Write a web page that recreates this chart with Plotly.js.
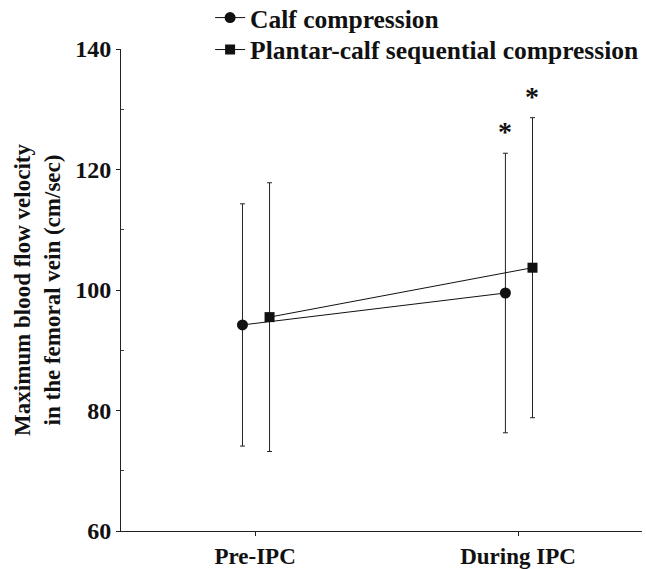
<!DOCTYPE html>
<html>
<head>
<meta charset="utf-8">
<script src="https://cdn.plot.ly/plotly-3.0.1.min.js"></script>
<style>html,body{margin:0;padding:0;background:#fff;}#chart{width:646px;height:569px;}</style>
</head>
<body>
<div id="chart"></div>
<script>
// Data
const categories = ["Pre-IPC", "During IPC"];
const calfMean = [94.2, 99.5];
const calfSD = [20.1, 23.2];
const plantarMean = [95.5, 103.7];
const plantarSD = [22.3, 24.9];
const seriesNames = ["Calf compression", "Plantar-calf sequential compression"];
const significant = [["", "*"], ["", "*"]];

// Styling / layout constants
const FONT = "Liberation Serif, Times New Roman, serif";
const catIdx = categories.map((c, i) => i);
const offCalf = -0.048, offPlant = 0.055;

const errStyle = (arr) => ({type: "data", array: arr, visible: true, color: "#222", thickness: 1, width: 2.5});

const traces = [
  {
    x: catIdx.map(i => i + offCalf), y: calfMean, name: seriesNames[0],
    mode: "lines+markers", type: "scatter", legend: "legend",
    line: {color: "#111", width: 1},
    marker: {symbol: "circle", size: 11, color: "#111"},
    error_y: errStyle(calfSD)
  },
  {
    x: catIdx.map(i => i + offPlant), y: plantarMean, name: seriesNames[1],
    mode: "lines+markers", type: "scatter", legend: "legend2",
    line: {color: "#111", width: 1},
    marker: {symbol: "square", size: 10, color: "#111"},
    error_y: errStyle(plantarSD)
  }
];

const annotations = [];
[[calfMean, calfSD, offCalf, 0], [plantarMean, plantarSD, offPlant, 1]].forEach(([m, sd, off, s]) => {
  m.forEach((v, i) => {
    if (significant[s][i]) {
      annotations.push({
        x: i + off, y: v + sd[i], xref: "x", yref: "y",
        text: significant[s][i], showarrow: false, yanchor: "bottom", yshift: 4,
        font: {family: FONT, size: 28, color: "#111"}
      });
    }
  });
});

const legendStyle = (y) => ({
  x: 0.171, y: y, xanchor: "left", yanchor: "middle",
  bgcolor: "rgba(0,0,0,0)",
  font: {family: FONT, size: 25.5, color: "#111", weight: "bold"},
  itemwidth: 30
});

const layout = {
  width: 646, height: 569,
  margin: {l: 121, r: 4, t: 49, b: 38, autoexpand: false},
  paper_bgcolor: "#fff", plot_bgcolor: "#fff",
  font: {family: FONT, color: "#111", size: 22, weight: "bold"},
  showlegend: true,
  legend: legendStyle(1.0643),
  legend2: legendStyle(0.998),
  xaxis: {
    range: [-0.51, 1.4715],
    tickvals: catIdx, ticktext: categories,
    showgrid: false, zeroline: false,
    showline: true, linecolor: "#222", linewidth: 1,
    ticks: "outside", ticklen: 4, tickcolor: "#222",
    tickfont: {family: FONT, size: 23, weight: "bold"}
  },
  yaxis: {
    range: [60, 140], tickvals: [60, 80, 100, 120, 140],
    showgrid: false, zeroline: false,
    showline: true, linecolor: "#222", linewidth: 1,
    ticks: "outside", ticklen: 4, tickcolor: "#222",
    minor: {tickvals: [70, 90, 110, 130], ticks: "inside", ticklen: 3, tickcolor: "#444"},
    tickfont: {family: FONT, size: 24, weight: "bold"},
    title: {text: "Maximum blood flow velocity<br>in the femoral vein (cm/sec)", standoff: 8,
            font: {family: FONT, size: 23, weight: "bold"}}
  },
  annotations: annotations
};

Plotly.newPlot("chart", traces, layout, {displayModeBar: false, staticPlot: true});
</script>
</body>
</html>
